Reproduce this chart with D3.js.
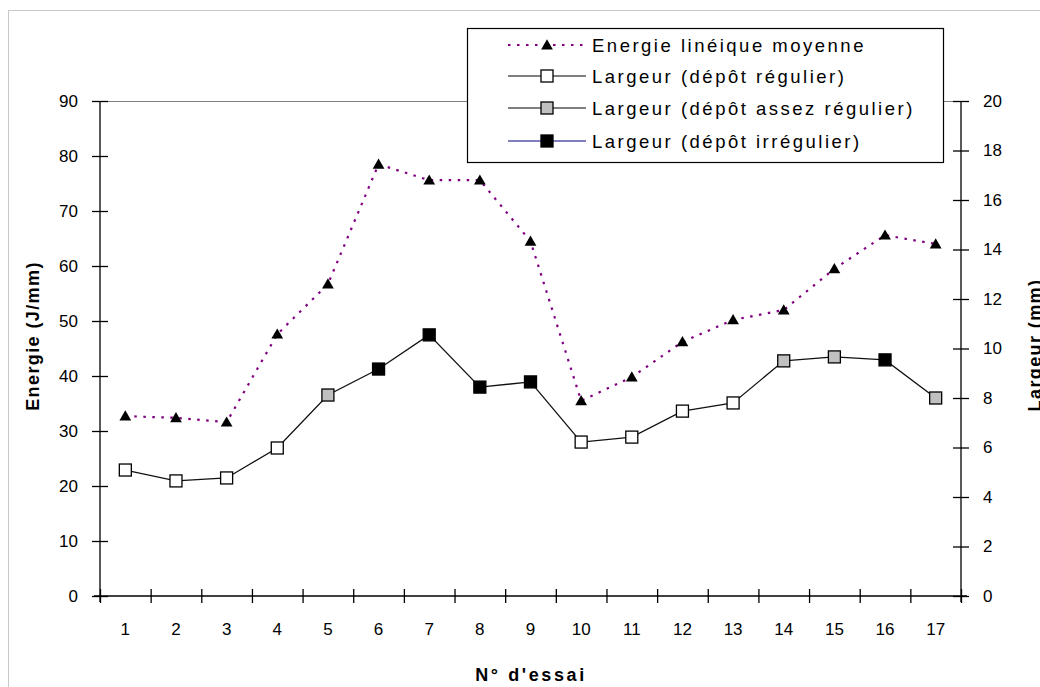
<!DOCTYPE html>
<html><head><meta charset="utf-8">
<script src="https://cdn.jsdelivr.net/npm/d3@7"></script>
<style>
body{margin:0;background:#fff;}
svg{display:block;font-family:"Liberation Sans",Arial,sans-serif;}
</style></head>
<body><svg id="c" width="1040" height="687"></svg>
<script>
const essais = ["1","2","3","4","5","6","7","8","9","10","11","12","13","14","15","16","17"];
const energie = [32.7,32.4,31.6,47.6,56.7,78.5,75.6,75.6,64.5,35.5,39.8,46.2,50.2,52.0,59.5,65.6,64.0];
const largeur = [5.09,4.65,4.77,5.98,8.12,9.17,10.55,8.44,8.65,6.22,6.42,7.47,7.8,9.5,9.66,9.54,8.0];
// r = régulier, a = assez régulier, i = irrégulier
const depot = ["r","r","r","r","a","i","i","i","i","r","r","r","r","a","a","i","a"];
const energieTicks = [0,10,20,30,40,50,60,70,80,90];
const largeurTicks = [0,2,4,6,8,10,12,14,16,18,20];
const legendLabels = ["Energie linéique moyenne","Largeur (dépôt régulier)","Largeur (dépôt assez régulier)","Largeur (dépôt irrégulier)"];

const svg = d3.select("#c");
const L = 100, R = 961, T = 101, B = 596;
const fills = {r:"#ffffff", a:"#c0c0c0", i:"#000000"};

// chart area border
svg.append("rect").attr("x",8.5).attr("y",10.5).attr("width",1100).attr("height",800)
  .attr("fill","none").attr("stroke","#c8c8c8");

const xb = d3.scaleLinear().domain([0,essais.length]).range([L,R]);
const xc = i => xb(i+0.5);
const yE = d3.scaleLinear().domain([0,90]).range([B,T]);
const yL = d3.scaleLinear().domain([0,20]).range([B,T]);

// plot area top border
svg.append("line").attr("x1",L).attr("x2",R).attr("y1",T+0.5).attr("y2",T+0.5).attr("stroke","#808080");

// left axis
const gl = svg.append("g").attr("transform",`translate(${L},0)`)
  .call(d3.axisLeft(yE).tickValues(energieTicks).tickSize(8).tickPadding(14));
gl.selectAll(".tick line").attr("x2",-8).attr("x1",8);
gl.select(".domain").attr("d",`M0,${T}V${B+6}`);
// right axis
const gr = svg.append("g").attr("transform",`translate(${R},0)`)
  .call(d3.axisRight(yL).tickValues(largeurTicks).tickSize(8).tickPadding(14));
gr.selectAll(".tick line").attr("x1",-8).attr("x2",8);
gr.select(".domain").attr("d",`M0,${T}V${B+6}`);
// x axis boundary ticks
const gx = svg.append("g").attr("transform",`translate(0,${B})`)
  .call(d3.axisBottom(xb).tickValues(d3.range(0,essais.length+1)).tickFormat("").tickSize(7));
gx.selectAll(".tick line").attr("y1",-7).attr("y2",7);
gx.select(".domain").attr("d",`M${L-6},0H${R+6}`);
// x labels
const xBand = d3.scaleBand().domain(essais).range([L,R]);
const gx2 = svg.append("g").attr("transform",`translate(0,${B})`)
  .call(d3.axisBottom(xBand).tickSize(0).tickPadding(27));
gx2.select(".domain").remove();

[gl,gr,gx,gx2].forEach(g=>{
  g.selectAll("text").attr("font-size",17).attr("fill","#000").attr("font-family","Liberation Sans, Arial, sans-serif");
  g.selectAll("line,path").attr("stroke","#000").attr("stroke-width",1.3);
});

// axis titles
svg.append("text").attr("x",531).attr("y",681).attr("text-anchor","middle")
  .attr("font-size",18).attr("font-weight","bold").attr("letter-spacing",2.6).text("N° d'essai");
svg.append("text").attr("transform","translate(39,336) rotate(-90)").attr("text-anchor","middle")
  .attr("font-size",18).attr("font-weight","bold").attr("letter-spacing",1.4).text("Energie (J/mm)");
svg.append("text").attr("transform","translate(1041,345) rotate(-90)").attr("text-anchor","middle")
  .attr("font-size",18).attr("font-weight","bold").attr("letter-spacing",1.4).text("Largeur (mm)");

// energie line
svg.append("path").datum(energie)
  .attr("d",d3.line().x((d,i)=>xc(i)).y(d=>yE(d)))
  .attr("fill","none").attr("stroke","#800080").attr("stroke-width",2.2).attr("stroke-dasharray","2.5,6.5");
const tri = d3.symbol().type(d3.symbolTriangle).size(60);
svg.selectAll(".tri").data(energie).join("path")
  .attr("transform",(d,i)=>`translate(${xc(i)},${yE(d)+1})`).attr("d",tri).attr("fill","#000");

// largeur line
svg.append("path").datum(largeur)
  .attr("d",d3.line().x((d,i)=>xc(i)).y(d=>yL(d)))
  .attr("fill","none").attr("stroke","#111").attr("stroke-width",1.3);
const s = 12;
svg.selectAll(".sq").data(largeur).join("rect")
  .attr("x",(d,i)=>xc(i)-s/2).attr("y",d=>yL(d)-s/2).attr("width",s).attr("height",s)
  .attr("fill",(d,i)=>fills[depot[i]]).attr("stroke","#000").attr("stroke-width",1.3);

// legend
const lg = svg.append("g");
lg.append("rect").attr("x",467.5).attr("y",28.5).attr("width",476).attr("height",134)
  .attr("fill","#fff").attr("stroke","#000").attr("stroke-width",1.2);
const rows = [45,76,108,141];
const lx1 = 508, lx2 = 586, mx = 547;
legendLabels.forEach((lab,k)=>{
  const y = rows[k];
  if(k===0){
    lg.append("line").attr("x1",lx1).attr("x2",lx2).attr("y1",y).attr("y2",y)
      .attr("stroke","#800080").attr("stroke-width",2.2).attr("stroke-dasharray","2.5,6.5");
    lg.append("path").attr("transform",`translate(${mx},${y+1})`).attr("d",tri).attr("fill","#000");
  } else {
    const kind = ["r","a","i"][k-1];
    lg.append("line").attr("x1",lx1).attr("x2",lx2).attr("y1",y).attr("y2",y)
      .attr("stroke",kind==="i"?"#000080":"#000").attr("stroke-width",1.2);
    lg.append("rect").attr("x",mx-s/2).attr("y",y-s/2).attr("width",s).attr("height",s)
      .attr("fill",fills[kind]).attr("stroke","#000").attr("stroke-width",1.3);
  }
  lg.append("text").attr("x",592).attr("y",y+6.5).attr("font-size",18.5).attr("letter-spacing",2.5)
    .attr("fill","#000").text(lab);
});
</script></body></html>
